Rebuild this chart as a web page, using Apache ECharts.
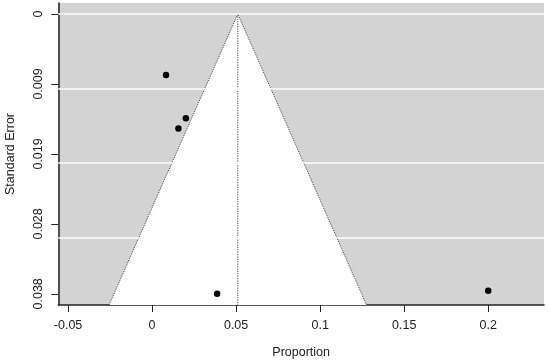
<!DOCTYPE html>
<html>
<head>
<meta charset="utf-8">
<script src="https://cdn.jsdelivr.net/npm/echarts@6/dist/echarts.min.js"></script>
<style>
html,body{margin:0;padding:0;background:#fff;}
#c{width:550px;height:363px;}
</style>
</head>
<body>
<div id="c"></div>
<script>
// Data
var proportion = [0.0083, 0.0201, 0.0157, 0.0387, 0.2];
var standardError = [0.0082, 0.0140, 0.0154, 0.0376, 0.0372];
var pooledEstimate = 0.0510;
var funnelBottomSE = 0.0391;
var xTicks = [-0.05, 0, 0.05, 0.1, 0.15, 0.2];
var xTickLabels = ["-0.05", "0", "0.05", "0.1", "0.15", "0.2"];
var yTicks = [0, 0.0094, 0.0188, 0.0282, 0.0376];
var yTickLabels = ["0", "0.009", "0.019", "0.028", "0.038"];
var xRange = [-0.0558, 0.2332];
var yRange = [-0.00148, 0.0391];
var zCrit = 1.96;

var points = proportion.map(function (p, i) { return [p, standardError[i]]; });
var leftEdge = pooledEstimate - zCrit * funnelBottomSE;
var rightEdge = pooledEstimate + zCrit * funnelBottomSE;
var funnelLine = [[leftEdge, funnelBottomSE], [pooledEstimate, 0], [rightEdge, funnelBottomSE]];
var centerLine = [[pooledEstimate, 0], [pooledEstimate, funnelBottomSE]];

function fmtX(v) {
  for (var i = 0; i < xTicks.length; i++) if (Math.abs(xTicks[i] - v) < 1e-9) return xTickLabels[i];
  return '';
}
function fmtY(v) {
  for (var i = 0; i < yTicks.length; i++) if (Math.abs(yTicks[i] - v) < 1e-9) return yTickLabels[i];
  return '';
}

var font = 'Liberation Sans, Arial, sans-serif';
var chart = echarts.init(document.getElementById('c'), null, {renderer: 'canvas'});
chart.setOption({
  animation: false,
  grid: {left: 58.3, right: 6, top: 3, bottom: 58, show: true, backgroundColor: '#d3d3d3', borderWidth: 0,
         containLabel: false, outerBoundsMode: 'none'},
  xAxis: {
    type: 'value', min: xRange[0], max: xRange[1],
    name: 'Proportion', nameLocation: 'middle', nameGap: 41,
    nameTextStyle: {fontFamily: font, fontSize: 12.5, color: '#222'},
    axisLine: {show: true, onZero: false, lineStyle: {color: '#222', width: 1.5}},
    axisTick: {show: true, length: 7, customValues: xTicks, lineStyle: {color: '#222', width: 1}},
    axisLabel: {customValues: xTicks, formatter: fmtX, margin: 14, fontFamily: font, fontSize: 12.5, color: '#222'},
    splitLine: {show: false}
  },
  yAxis: {
    type: 'value', inverse: true, min: yRange[0], max: yRange[1],
    name: 'Standard Error', nameLocation: 'middle', nameGap: 41,
    nameTextStyle: {fontFamily: font, fontSize: 12.5, color: '#222'},
    axisLine: {show: true, onZero: false, lineStyle: {color: '#222', width: 1.5}},
    axisTick: {show: true, length: 7, customValues: yTicks, lineStyle: {color: '#222', width: 1}},
    axisLabel: {customValues: yTicks, formatter: fmtY, rotate: 90, margin: 13, fontFamily: font, fontSize: 12.5, color: '#222'},
    splitLine: {show: false}
  },
  series: [
    {
      type: 'line', data: [], silent: true, z: 1,
      markLine: {
        silent: true, symbol: 'none', animation: false,
        label: {show: false},
        lineStyle: {color: '#ffffff', width: 1.5, type: 'solid'},
        data: yTicks.map(function (v) { return {yAxis: v}; })
      }
    },
    {
      type: 'custom', z: 2, silent: true,
      data: [[0]],
      renderItem: function (params, api) {
        var a = api.coord(funnelLine[0]);
        var b = api.coord(funnelLine[1]);
        var c = api.coord(funnelLine[2]);
        return {
          type: 'polygon',
          shape: {points: [a, b, c]},
          style: {fill: '#ffffff', stroke: null}
        };
      }
    },
    {
      type: 'line', z: 3, silent: true, data: funnelLine, symbol: 'none',
      lineStyle: {color: '#444', width: 1, type: [1.2, 1.2]}
    },
    {
      type: 'line', z: 3, silent: true, data: centerLine, symbol: 'none',
      lineStyle: {color: '#444', width: 1, type: [1.2, 1.2]}
    },
    {
      type: 'scatter', z: 4, data: points, symbol: 'circle', symbolSize: 6.5,
      itemStyle: {color: '#000', opacity: 1}
    }
  ]
});
</script>
</body>
</html>
